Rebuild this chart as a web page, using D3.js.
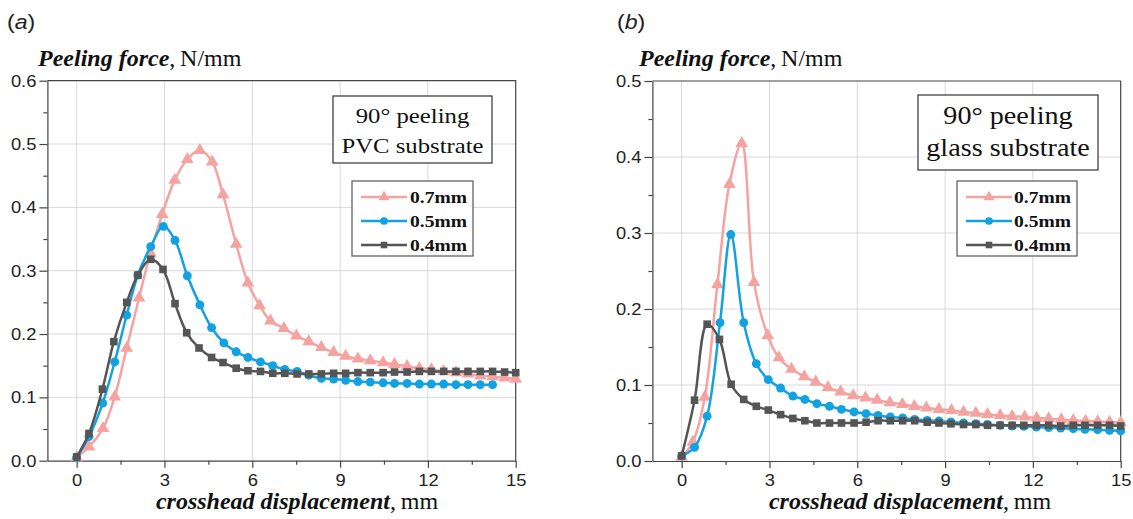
<!DOCTYPE html>
<html><head><meta charset="utf-8">
<script src="https://cdn.jsdelivr.net/npm/d3@7"></script>
<style>
html,body{margin:0;padding:0;background:#fff;}
svg{display:block;}
</style></head>
<body>
<svg id="chart" width="1133" height="519"></svg>
<script>
// ---------- data ----------
const seriesNames = ["0.7mm", "0.5mm", "0.4mm"];
const xTickValues = [0, 3, 6, 9, 12, 15];
const yTickValuesA = [0, 0.1, 0.2, 0.3, 0.4, 0.5, 0.6];
const yTickValuesB = [0, 0.1, 0.2, 0.3, 0.4, 0.5];

// panel (a) PVC substrate
const aX07 = [0, 0.42, 0.9, 1.3, 1.71, 2.13, 2.52, 2.92, 3.35, 3.78, 4.21, 4.63, 5.0, 5.45, 5.85, 6.25, 6.62, 7.08, 7.51, 7.93, 8.36, 8.78, 9.19, 9.61, 10.03, 10.47, 10.86, 11.29, 11.71, 12.12, 12.54, 12.96, 13.37, 13.79, 14.21, 14.62, 15.0];
const aY07 = [0.005, 0.022, 0.051, 0.101, 0.178, 0.257, 0.328, 0.389, 0.443, 0.476, 0.490, 0.472, 0.420, 0.342, 0.281, 0.245, 0.221, 0.209, 0.197, 0.188, 0.179, 0.171, 0.165, 0.161, 0.158, 0.155, 0.152, 0.149, 0.146, 0.144, 0.141, 0.139, 0.137, 0.134, 0.133, 0.131, 0.129];
const aX05 = [0, 0.42, 0.89, 1.30, 1.71, 2.09, 2.53, 2.96, 3.36, 3.78, 4.21, 4.61, 5.03, 5.45, 5.85, 6.28, 6.70, 7.11, 7.53, 7.93, 8.36, 8.78, 9.19, 9.61, 10.03, 10.47, 10.86, 11.29, 11.71, 12.12, 12.54, 12.96, 13.37, 13.79, 14.21];
const aY05 = [0.005, 0.038, 0.091, 0.156, 0.230, 0.293, 0.338, 0.370, 0.348, 0.292, 0.246, 0.210, 0.186, 0.172, 0.163, 0.156, 0.150, 0.144, 0.141, 0.135, 0.130, 0.129, 0.127, 0.125, 0.124, 0.123, 0.122, 0.122, 0.121, 0.121, 0.121, 0.120, 0.120, 0.120, 0.120];
const aX04 = [0, 0.42, 0.88, 1.27, 1.71, 2.09, 2.53, 2.95, 3.36, 3.76, 4.18, 4.61, 5.0, 5.45, 5.85, 6.28, 6.70, 7.11, 7.53, 7.93, 8.36, 8.78, 9.19, 9.61, 10.03, 10.47, 10.86, 11.29, 11.71, 12.12, 12.54, 12.96, 13.37, 13.79, 14.21, 14.62, 15.0];
const aY04 = [0.006, 0.043, 0.113, 0.188, 0.250, 0.293, 0.318, 0.302, 0.248, 0.202, 0.178, 0.163, 0.155, 0.146, 0.142, 0.141, 0.138, 0.138, 0.137, 0.137, 0.137, 0.138, 0.138, 0.139, 0.139, 0.139, 0.140, 0.140, 0.141, 0.141, 0.141, 0.141, 0.141, 0.141, 0.141, 0.140, 0.139];

// panel (b) glass substrate
const bX07 = [0, 0.38, 0.79, 1.22, 1.63, 2.05, 2.47, 2.94, 3.32, 3.75, 4.19, 4.58, 5.0, 5.43, 5.86, 6.28, 6.68, 7.11, 7.54, 7.95, 8.36, 8.79, 9.22, 9.63, 10.05, 10.45, 10.88, 11.29, 11.72, 12.13, 12.54, 12.97, 13.38, 13.8, 14.21, 14.62, 15];
const bY07 = [0.005, 0.025, 0.084, 0.232, 0.364, 0.418, 0.235, 0.165, 0.136, 0.121, 0.111, 0.104, 0.0965, 0.091, 0.086, 0.083, 0.080, 0.077, 0.0746, 0.072, 0.070, 0.068, 0.0667, 0.0645, 0.063, 0.0614, 0.060, 0.0588, 0.058, 0.0566, 0.0557, 0.0544, 0.0535, 0.0526, 0.052, 0.0513, 0.0504];
const bX05 = [0, 0.44, 0.87, 1.31, 1.68, 2.12, 2.55, 2.96, 3.38, 3.80, 4.21, 4.62, 5.05, 5.46, 5.89, 6.30, 6.71, 7.13, 7.55, 7.96, 8.39, 8.79, 9.2, 9.63, 10.05, 10.45, 10.88, 11.29, 11.69, 12.12, 12.54, 12.95, 13.38, 13.78, 14.21, 14.62, 15];
const bY05 = [0.0066, 0.018, 0.059, 0.182, 0.298, 0.182, 0.128, 0.107, 0.096, 0.0855, 0.081, 0.0754, 0.072, 0.068, 0.0645, 0.0623, 0.060, 0.058, 0.0566, 0.0548, 0.0535, 0.0526, 0.0513, 0.050, 0.049, 0.048, 0.047, 0.046, 0.0456, 0.0447, 0.0439, 0.0434, 0.0425, 0.0417, 0.0412, 0.0404, 0.0395];
const bX04 = [0, 0.44, 0.87, 1.29, 1.69, 2.12, 2.55, 2.96, 3.38, 3.80, 4.21, 4.62, 5.05, 5.46, 5.89, 6.30, 6.71, 7.13, 7.55, 7.96, 8.39, 8.79, 9.2, 9.63, 10.05, 10.45, 10.88, 11.29, 11.69, 12.12, 12.54, 12.95, 13.38, 13.78, 14.21, 14.62, 15];
const bY04 = [0.0066, 0.080, 0.180, 0.160, 0.101, 0.081, 0.072, 0.067, 0.061, 0.056, 0.053, 0.050, 0.050, 0.050, 0.050, 0.051, 0.053, 0.053, 0.053, 0.053, 0.051, 0.050, 0.049, 0.048, 0.048, 0.047, 0.047, 0.047, 0.047, 0.047, 0.047, 0.046, 0.047, 0.047, 0.047, 0.047, 0.046];

// ---------- styles ----------
const colors = ["#F5A3A1", "#12A2E2", "#555555"];
const markerTypes = [d3.symbolTriangle, d3.symbolCircle, d3.symbolSquare];
const markerSizes = [70, 62, 58];

const svg = d3.select("#chart");

function stext(g, x, y, anchor, sx) {
  return g.append("text")
    .attr("transform", `translate(${x},${y}) scale(${sx},1)`)
    .attr("text-anchor", anchor || "start");
}

const panels = [
  {
    letter: "(a)", letterX: 7,
    left: 47.4, right: 515.7, top: 80.7, bottom: 460.7,
    yMax: 0.6, yTicks: yTickValuesA,
    titleX: 38, xTitleX: 297,
    box: {x: 333, y: 96, w: 159, h: 67, lines: ["90\u00B0 peeling", "PVC substrate"], size: 21.5, base: [123, 153]},
    legend: {x: 352, y: 181, w: 121, h: 75, lx1: 361, lx2: 407, tx: 410},
    series: [[aX07, aY07], [aX05, aY05], [aX04, aY04]]
  },
  {
    letter: "(b)", letterX: 617,
    left: 652.4, right: 1120.7, top: 81, bottom: 461,
    yMax: 0.5, yTicks: yTickValuesB,
    titleX: 639, xTitleX: 910,
    box: {x: 918, y: 95, w: 180, h: 75, lines: ["90\u00B0 peeling", "glass substrate"], size: 24.5, base: [124, 156]},
    legend: {x: 957, y: 181, w: 120, h: 75, lx1: 966, lx2: 1012, tx: 1014},
    series: [[bX07, bY07], [bX05, bY05], [bX04, bY04]]
  }
];

panels.forEach(p => {
  const g = svg.append("g");
  const x = d3.scaleLinear().domain([-1, 15]).range([p.left, p.right]);
  const y = d3.scaleLinear().domain([0, p.yMax]).range([p.bottom, p.top]);

  // grid
  g.append("g").selectAll("line").data(xTickValues.filter(v => v < 15)).join("line")
    .attr("x1", d => x(d)).attr("x2", d => x(d)).attr("y1", p.top).attr("y2", p.bottom)
    .attr("stroke", "#d8d8d8").attr("stroke-width", 1);
  g.append("g").selectAll("line").data(p.yTicks.filter(v => v > 0 && v < p.yMax - 1e-9)).join("line")
    .attr("y1", d => y(d)).attr("y2", d => y(d)).attr("x1", p.left).attr("x2", p.right)
    .attr("stroke", "#d8d8d8").attr("stroke-width", 1);

  // frame (top + right)
  g.append("path")
    .attr("d", `M${p.left},${p.top}H${p.right}V${p.bottom}`)
    .attr("fill", "none").attr("stroke", "#444").attr("stroke-width", 1.2);

  // minor ticks
  const minorX = d3.range(1.5, 15, 3);
  const minorY = d3.range(0.05, p.yMax, 0.1);
  g.append("g").attr("transform", `translate(0,${p.bottom})`)
    .call(d3.axisBottom(x).tickValues(minorX).tickSize(4).tickFormat(""))
    .call(s => s.select(".domain").remove())
    .selectAll("line").attr("stroke", "#444").attr("stroke-width", 1.2);
  g.append("g").attr("transform", `translate(${p.left},0)`)
    .call(d3.axisLeft(y).tickValues(minorY).tickSize(4).tickFormat(""))
    .call(s => s.select(".domain").remove())
    .selectAll("line").attr("stroke", "#444").attr("stroke-width", 1.2);

  // major axes
  const xa = g.append("g").attr("transform", `translate(0,${p.bottom})`)
    .call(d3.axisBottom(x).tickValues(xTickValues).tickSize(7).tickPadding(6).tickSizeOuter(0));
  const ya = g.append("g").attr("transform", `translate(${p.left},0)`)
    .call(d3.axisLeft(y).tickValues(p.yTicks).tickSize(8).tickPadding(3).tickSizeOuter(0).tickFormat(d3.format(".1f")));
  [xa, ya].forEach(a => {
    a.select(".domain").attr("stroke", "#444").attr("stroke-width", 1.2);
    a.selectAll(".tick line").attr("stroke", "#444").attr("stroke-width", 1.2);
    a.selectAll(".tick text").attr("font-family", "'Liberation Sans', Arial, sans-serif")
      .attr("font-size", 17).attr("fill", "#222");
  });
  xa.selectAll(".tick text").attr("transform", `scale(1.08,1)`);
  ya.selectAll(".tick text").each(function () {
    const t = d3.select(this);
    const xx = +t.attr("x");
    t.attr("x", 0).attr("transform", `translate(${xx},0) scale(1.08,1)`);
  });

  // series
  const line = d3.line().curve(d3.curveCatmullRom.alpha(0.5)).x(d => x(d[0])).y(d => y(d[1]));
  p.series.forEach((s, i) => {
    const pts = s[0].map((v, k) => [v, s[1][k]]);
    g.append("path").datum(pts).attr("d", line)
      .attr("fill", "none").attr("stroke", colors[i]).attr("stroke-width", 2.5);
    g.append("g").selectAll("path").data(pts).join("path")
      .attr("transform", d => `translate(${x(d[0])},${y(d[1])})`)
      .attr("d", d3.symbol().type(markerTypes[i]).size(markerSizes[i]))
      .attr("fill", colors[i]);
  });

  // annotation box
  const b = p.box;
  g.append("rect").attr("x", b.x).attr("y", b.y).attr("width", b.w).attr("height", b.h)
    .attr("fill", "#fff").attr("stroke", "#333").attr("stroke-width", 1.2);
  b.lines.forEach((t, k) => {
    stext(g, b.x + b.w / 2, b.base[k], "middle", 1.15)
      .attr("font-family", "'Liberation Serif', 'Times New Roman', serif")
      .attr("font-size", b.size).attr("fill", "#111").text(t);
  });

  // legend
  const L = p.legend;
  g.append("rect").attr("x", L.x).attr("y", L.y).attr("width", L.w).attr("height", L.h)
    .attr("fill", "#fff").attr("stroke", "#555").attr("stroke-width", 1.2);
  seriesNames.forEach((n, i) => {
    const cy = 197 + i * 24;
    g.append("line").attr("x1", L.lx1).attr("x2", L.lx2).attr("y1", cy).attr("y2", cy)
      .attr("stroke", colors[i]).attr("stroke-width", 2.4);
    g.append("path").attr("transform", `translate(${(L.lx1 + L.lx2) / 2},${cy})`)
      .attr("d", d3.symbol().type(markerTypes[i]).size(markerSizes[i] * 0.75)).attr("fill", colors[i]);
    stext(g, L.tx, cy + 6, "start", 1.15)
      .attr("font-family", "'Liberation Serif', 'Times New Roman', serif")
      .attr("font-weight", "bold").attr("font-size", 17).attr("fill", "#111").text(n);
  });

  // panel letter
  const lt = stext(g, p.letterX, 29, "start", 1.1)
    .attr("font-family", "'Liberation Sans', Arial, sans-serif").attr("font-size", 21).attr("fill", "#222");
  lt.append("tspan").text("(");
  lt.append("tspan").attr("font-style", "italic").text(p.letter.slice(1, 2));
  lt.append("tspan").text(")");

  // y title
  const yt = stext(g, p.titleX, 66, "start", 1.0)
    .attr("font-family", "'Liberation Serif', 'Times New Roman', serif").attr("font-size", 24).attr("fill", "#111");
  yt.append("tspan").attr("font-weight", "bold").attr("font-style", "italic").text("Peeling force");
  yt.append("tspan").text(",\u2009N/mm");

  // x title
  const xt = stext(g, p.xTitleX, 509, "middle", 1.0)
    .attr("font-family", "'Liberation Serif', 'Times New Roman', serif").attr("font-size", 24).attr("fill", "#111");
  xt.append("tspan").attr("font-weight", "bold").attr("font-style", "italic").text("crosshead displacement");
  xt.append("tspan").text(",\u2009mm");
});
</script>
</body></html>
